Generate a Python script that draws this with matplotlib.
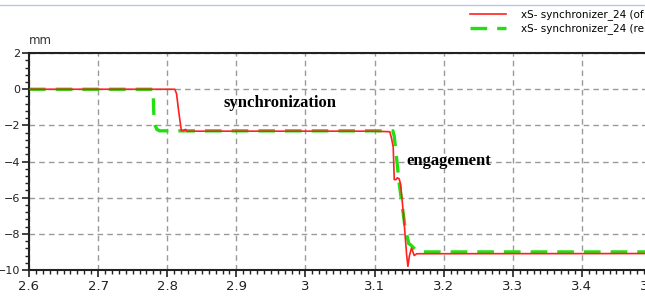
import numpy as np
import matplotlib.pyplot as plt
from matplotlib.lines import Line2D
from matplotlib.ticker import MultipleLocator

# red curve: xS- synchronizer_24 (first run), time [s] / displacement [mm]
red_t = [2.600, 2.811, 2.8135, 2.8165, 2.8205, 2.824, 2.8265, 2.829, 2.835,
         3.100, 3.122, 3.1245, 3.127, 3.1285, 3.131, 3.133, 3.1355, 3.1377,
         3.142, 3.1465, 3.1483, 3.1505, 3.1535, 3.1574, 3.161, 3.500]
red_x = [0.0, 0.0, -0.25, -1.2, -2.3, -2.28, -2.22, -2.33, -2.32,
         -2.32, -2.35, -2.7, -3.2, -5.0, -5.0, -4.9, -4.95, -5.25,
         -7.0, -9.2, -9.8, -9.2, -8.78, -9.2, -9.1, -9.09]

# green curve: xS- synchronizer_24 (second run)
green_t = [2.600, 2.7798, 2.7802, 2.781, 2.7825, 2.785, 2.789, 3.1265,
           3.1285, 3.136, 3.144, 3.1495, 3.152, 3.1585, 3.166, 3.500]
green_x = [0.0, 0.0, -1.0, -1.6, -2.0, -2.22, -2.3, -2.3,
           -2.6, -5.3, -7.6, -8.55, -8.6, -8.85, -9.0, -9.0]

labels = ["xS- synchronizer_24 (of", "xS- synchronizer_24 (re"]
x_ticks = [2.6, 2.7, 2.8, 2.9, 3.0, 3.1, 3.2, 3.3, 3.4, 3.5]
x_ticklabels = ["2.6", "2.7", "2.8", "2.9", "3", "3.1", "3.2", "3.3", "3.4", "3.5"]
y_ticks = [2, 0, -2, -4, -6, -8, -10]

plt.rcParams['font.family'] = ['DejaVu Sans']

fig = plt.figure(figsize=(6.45, 3.0), dpi=100)
ax = fig.add_axes([29 / 645, 0.1, 622 / 645, 0.723])

ax.plot(red_t, red_x, color='#ff2020', lw=1.2, label=labels[0], zorder=3)
ax.plot(green_t, green_x, color='#22e010', lw=2.4, ls=(0, (5, 3)),
        label=labels[1], zorder=2)

ax.set_xlim(2.6, 3.5)
ax.set_ylim(-10, 2)
ax.set_xticks(x_ticks)
ax.set_xticklabels(x_ticklabels)
ax.set_yticks(y_ticks)
ax.xaxis.set_minor_locator(MultipleLocator(0.01))
ax.yaxis.set_minor_locator(MultipleLocator(0.4))
ax.tick_params(which='major', direction='out', length=5, width=1.2,
               labelsize=9.5, pad=2, colors='#222222')
ax.tick_params(which='minor', direction='out', length=3, width=1.0,
               colors='#222222')
ax.tick_params(axis='y', labelsize=8, pad=1)

ax.grid(True, which='major', color='#9a9a9a', ls=(0, (4, 3)), lw=1.0)
for s in ['left', 'bottom', 'top']:
    ax.spines[s].set_linewidth(1.5)
    ax.spines[s].set_color('#222222')
ax.spines['right'].set_visible(False)

ax.text(2.6, 2.35, "mm", fontsize=8.5, ha='left', va='bottom', color='#333333')

ax.text(2.963, -0.75, "synchronization", fontsize=12, fontweight='bold',
        family='Liberation Serif', ha='center', va='center')
ax.text(3.207, -3.95, "engagement", fontsize=12, fontweight='bold',
        family='Liberation Serif', ha='center', va='center')

fig.legend(loc='upper left', bbox_to_anchor=(466 / 645, 1 - 5 / 300),
           frameon=False, fontsize=7.5, handlelength=3.4, handletextpad=1.5,
           labelspacing=0.3, borderaxespad=0)

fig.add_artist(Line2D([0, 1], [1 - 5 / 300, 1 - 5 / 300], color='#b8c8dc',
                      lw=1.0, transform=fig.transFigure))

fig.savefig('out.png', dpi=100)
